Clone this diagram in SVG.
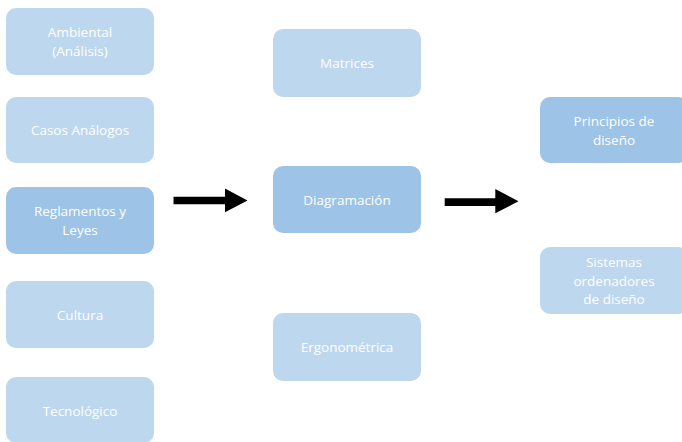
<svg xmlns="http://www.w3.org/2000/svg" width="682" height="442" viewBox="0 0 682 442">
<style>
.n rect{stroke:none}
.l rect{fill:#BDD7EE}
.d rect{fill:#9DC3E6}
.n text{fill:#FFFFFF;font-family:"Open Sans","Liberation Sans",sans-serif;font-size:13.5px;text-anchor:middle}
.arrow{fill:#000000}
</style>
<rect width="682" height="442" fill="#FFFFFF"/>
<g id="ambiental" class="n l"><rect x="6" y="8" width="148" height="67" rx="10"/><text x="80" y="37">Ambiental</text><text x="80" y="56">(Análisis)</text></g>
<g id="casos" class="n l"><rect x="6" y="97" width="148" height="66" rx="10"/><text x="80" y="135">Casos Análogos</text></g>
<g id="reglamentos" class="n d"><rect x="6" y="187" width="148" height="67" rx="10"/><text x="80" y="216">Reglamentos y</text><text x="80" y="235">Leyes</text></g>
<g id="cultura" class="n l"><rect x="6" y="281" width="148" height="67" rx="10"/><text x="80" y="319.5">Cultura</text></g>
<g id="tecnologico" class="n l"><rect x="6" y="377" width="148" height="66" rx="10"/><text x="80" y="415.5">Tecnológico</text></g>
<g id="matrices" class="n l"><rect x="273" y="29" width="148" height="68" rx="10"/><text x="347" y="68">Matrices</text></g>
<g id="diagramacion" class="n d"><rect x="273" y="166" width="148" height="67" rx="10"/><text x="347" y="204.5">Diagramación</text></g>
<g id="ergonometrica" class="n l"><rect x="273" y="313" width="148" height="68" rx="10"/><text x="347" y="352">Ergonométrica</text></g>
<g id="principios" class="n d"><rect x="540" y="97" width="148" height="66" rx="10"/><text x="614" y="125.5">Principios de</text><text x="614" y="144.5">diseño</text></g>
<g id="sistemas" class="n l"><rect x="540" y="247" width="148" height="67" rx="10"/><text x="614" y="267">Sistemas</text><text x="614" y="285.5">ordenadores</text><text x="614" y="304">de diseño</text></g>
<g id="connectors">
<polygon class="arrow" points="173.5,196.7 225,196.7 225,188.5 247.5,200.5 225,212.3 225,204.3 173.5,204.3"/>
<polygon class="arrow" points="444.7,198.2 495.3,198.2 495.3,189 518.5,201.3 495.3,213.3 495.3,206 444.7,206"/>
</g>
</svg>
